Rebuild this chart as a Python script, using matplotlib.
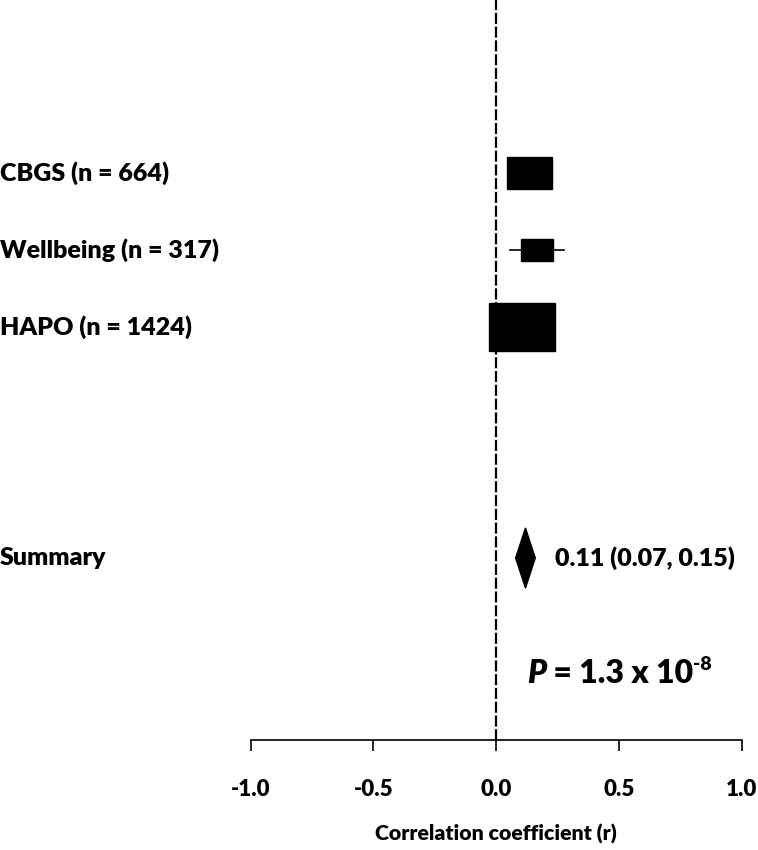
import numpy as np
import matplotlib.pyplot as plt
from matplotlib.patches import Rectangle, Polygon

plt.rcParams['font.family'] = ['Lato', 'DejaVu Sans']
plt.rcParams['font.weight'] = 'bold'
FW = 'heavy'

# ---- data ----
studies   = ['CBGS (n = 664)', 'Wellbeing (n = 317)', 'HAPO (n = 1424)']
n_sizes   = [664, 317, 1424]
estimates = [0.138, 0.167, 0.106]
ci_low    = [0.065, 0.057, 0.050]
ci_high   = [0.210, 0.277, 0.160]
rows      = [0, 1, 2]

summary_row  = 5
summary_est  = 0.12
summary_low  = 0.08
summary_high = 0.16
summary_txt  = '0.11 (0.07, 0.15)'

xticks = [-1.0, -0.5, 0.0, 0.5, 1.0]

fig = plt.figure(figsize=(7.58, 8.5), dpi=100)
ax = fig.add_axes([0, 0, 1, 1])
ax.set_xlim(-496 / 245.5, (758 - 496) / 245.5)
ax.set_ylim((850 - 173) / 77, -173 / 77)

# null line
ax.plot([0, 0], [-2.3, 7.36], color='black', lw=1.6, ls=(0, (5, 1.2)), zorder=1)

# study boxes + whiskers (box size ~ sqrt(n))
for r, n, est, lo, hi, lab in zip(rows, n_sizes, estimates, ci_low, ci_high, studies):
    ax.plot([lo, hi], [r, r], color='black', lw=1.2, zorder=2)
    w = 0.0071 * np.sqrt(n)
    h = 0.0166 * np.sqrt(n)
    ax.add_patch(Rectangle((est - w / 2, r - h / 2), w, h, color='black', zorder=3))
    ax.text(-2.02, r, lab, ha='left', va='center', fontsize=18, fontweight=FW)

# summary diamond
dh = 0.39
ax.add_patch(Polygon([[summary_low, summary_row], [summary_est, summary_row - dh],
                      [summary_high, summary_row], [summary_est, summary_row + dh]],
                     closed=True, color='black', zorder=3))
ax.text(-2.02, summary_row, 'Summary', ha='left', va='center', fontsize=18, fontweight=FW)
ax.text(0.24, summary_row, summary_txt, ha='left', va='center', fontsize=18, fontweight=FW)

# P value
t1 = ax.text(0.125, 6.5, 'P', ha='left', va='center', fontsize=23,
             fontweight=FW, fontstyle='italic')
t2 = ax.annotate(' = 1.3 x 10', xy=(1, 0), xycoords=t1, ha='left', va='bottom',
                 fontsize=23, fontweight=FW)
ax.annotate('-8', xy=(1, 1), xycoords=t2, ha='left', va='top', fontsize=14,
            fontweight=FW, xytext=(0, 2), textcoords='offset points')

# x axis
for s in ['top', 'right', 'left']:
    ax.spines[s].set_visible(False)
ax.spines['bottom'].set_position(('data', 7.36))
ax.spines['bottom'].set_bounds(-1, 1)
ax.spines['bottom'].set_linewidth(1.2)
ax.set_yticks([])
ax.set_xticks(xticks)
ax.set_xticklabels([f'{v:.1f}' for v in xticks])
ax.tick_params(axis='x', direction='out', length=8, width=1.2, pad=20, labelsize=16)
for t in ax.get_xticklabels():
    t.set_fontweight(FW)
ax.text(0, 7.38 + 1.2, 'Correlation coefficient (r)', ha='center', va='center',
        fontsize=15.3, fontweight=FW)

fig.savefig('out.png', dpi=100, facecolor='white')
